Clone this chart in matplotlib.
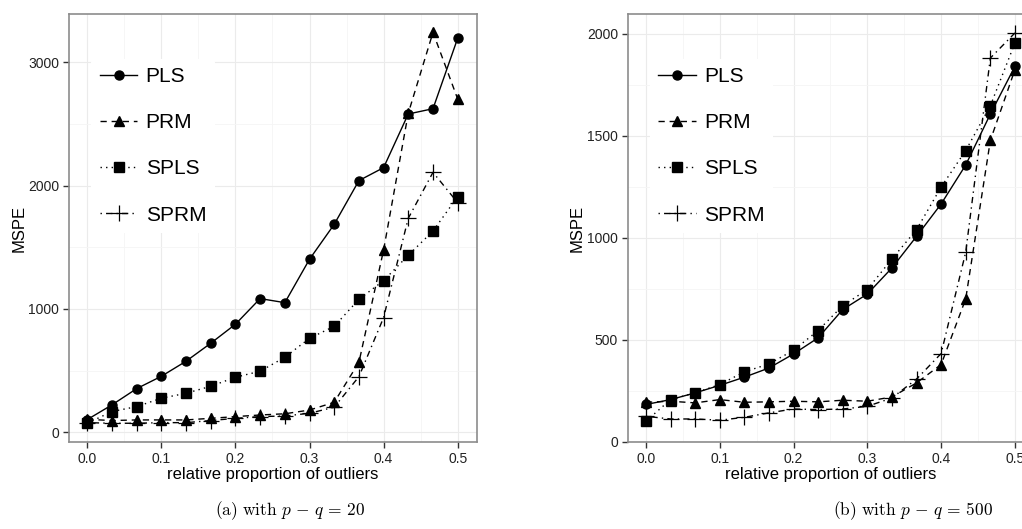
import matplotlib
matplotlib.use('Agg')
import matplotlib.pyplot as plt
from matplotlib.ticker import MultipleLocator

plt.rcParams['font.family'] = ['Liberation Sans', 'DejaVu Sans']
plt.rcParams['mathtext.fontset'] = 'cm'

# relative proportion of outliers
prop = [0.0, 0.0333, 0.0667, 0.1, 0.1333, 0.1667, 0.2, 0.2333,
        0.2667, 0.3, 0.3333, 0.3667, 0.4, 0.4333, 0.4667, 0.5]

methods = ['PLS', 'PRM', 'SPLS', 'SPRM']

# (a) p - q = 20
pls_a = [103, 222, 354, 454, 576, 722, 876, 1084, 1051, 1403, 1686, 2041, 2146, 2581, 2624, 3195]
prm_a = [105, 95, 100, 100, 100, 113, 127, 140, 150, 180, 243, 567, 1478, 2587, 3243, 2703]
spls_a = [73, 168, 208, 276, 316, 373, 446, 495, 608, 762, 859, 1078, 1230, 1435, 1632, 1911]
sprm_a = [78, 73, 73, 78, 78, 95, 113, 127, 132, 154, 203, 451, 930, 1735, 2108, 1862]

# (b) p - q = 500
pls_b = [182, 206, 239, 276, 316, 361, 430, 509, 648, 724, 852, 1007, 1166, 1357, 1607, 1841]
prm_b = [193, 198, 190, 206, 193, 195, 198, 195, 203, 198, 219, 288, 378, 700, 1478, 1825]
spls_b = [100, 206, 239, 280, 342, 381, 448, 545, 667, 746, 896, 1040, 1249, 1428, 1648, 1956]
sprm_b = [124, 111, 111, 105, 119, 141, 160, 157, 160, 173, 214, 307, 432, 929, 1882, 2005]

styles = {
    'PLS': dict(ls='-', marker='o', ms=6.5),
    'PRM': dict(ls=(0, (4.5, 3.5)), marker='^', ms=7.5),
    'SPLS': dict(ls=(0, (1, 3)), marker='s', ms=6.5),
    'SPRM': dict(ls=(0, (1, 3, 4.5, 3)), marker='+', ms=11, mew=0.9),
}

W, H = 1022, 529
fig = plt.figure(figsize=(W / 100, H / 100), dpi=100)


def panel(rect, series, ylim, ymajor, caption, cap_x):
    l, r, t, b = rect
    ax = fig.add_axes([l / W, 1 - b / H, (r - l) / W, (b - t) / H])
    for name, vals in zip(methods, series):
        ax.plot(prop, vals, color='black', lw=1.0, label=name, **styles[name])
    ax.set_xlim(-0.0247, 0.5257)
    ax.set_ylim(*ylim)
    ax.xaxis.set_major_locator(MultipleLocator(0.1))
    ax.xaxis.set_minor_locator(MultipleLocator(0.05))
    ax.yaxis.set_major_locator(MultipleLocator(ymajor))
    ax.yaxis.set_minor_locator(MultipleLocator(ymajor / 2))
    ax.set_xticks([0, 0.1, 0.2, 0.3, 0.4, 0.5])
    ax.set_xticklabels(['0.0', '0.1', '0.2', '0.3', '0.4', '0.5'])
    ax.grid(which='major', color='#ebebeb', lw=0.8)
    ax.grid(which='minor', color='#f5f5f5', lw=0.6)
    ax.set_axisbelow(True)
    for s in ax.spines.values():
        s.set_color('#8c8c8c')
        s.set_linewidth(1.2)
    ax.tick_params(which='major', length=4, width=1.0, color='#333333',
                   labelsize=10, labelcolor='#222222', pad=3)
    ax.tick_params(which='minor', length=0)
    ax.set_xlabel('relative proportion of outliers', fontsize=12)
    ax.set_ylabel('MSPE', fontsize=12)
    ax.xaxis.set_label_coords(0.5, -0.058)
    ax.yaxis.set_label_coords(-0.105, 0.5)
    ax.legend(loc='upper left', bbox_to_anchor=(0.055, 0.895), fontsize=15,
              handlelength=1.8, handletextpad=0.4, labelspacing=1.3,
              frameon=True, facecolor='white', edgecolor='none',
              framealpha=1.0, borderpad=0.4, borderaxespad=0)
    fig.text(cap_x / W, 1 - 511 / H, caption, ha='center', va='center', fontsize=12.5)
    return ax


panel((69, 476.7, 14, 442), [pls_a, prm_a, spls_a, sprm_a], (-79, 3392), 1000,
      r'$\mathrm{(a)\ with\ }p\,-\,q\,=\,20$', 290)
panel((627.7, 1033.9, 14, 442), [pls_b, prm_b, spls_b, sprm_b], (-2, 2098), 500,
      r'$\mathrm{(b)\ with\ }p\,-\,q\,=\,500$', 913)

fig.savefig('out.png', dpi=100)
